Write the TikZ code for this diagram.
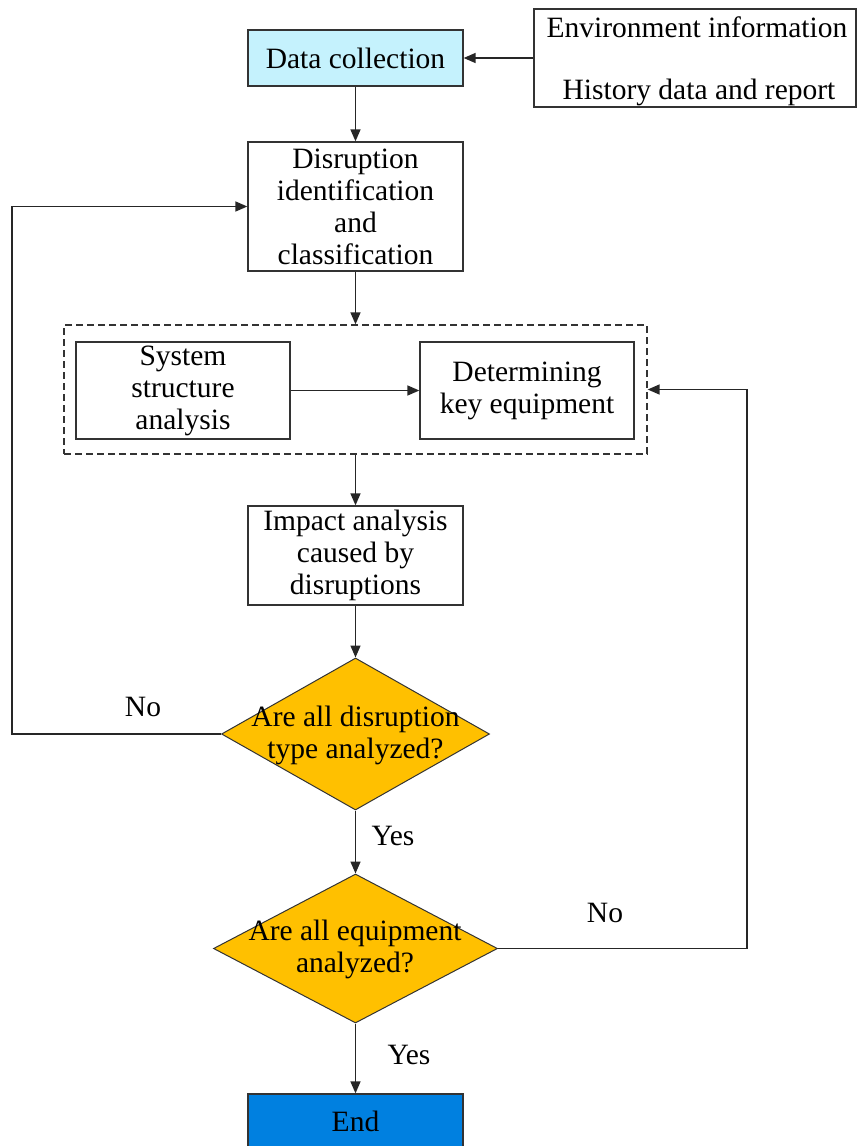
\documentclass[tikz,border=0pt]{standalone}
\usepackage{fontspec}
\setmainfont{Liberation Serif}
\usetikzlibrary{arrows.meta,shapes.geometric}
\definecolor{dccyan}{HTML}{C5F2FD}
\definecolor{gold}{HTML}{FFC000}
\definecolor{endblue}{HTML}{0080E0}
\definecolor{edge}{HTML}{333333}
\begin{document}
\begin{tikzpicture}[x=1pt,y=-1pt,
  fnt/.style={font=\fontsize{29.5}{32}\selectfont},
  box/.style={fnt,draw=edge,line width=1.3pt,align=center,inner sep=0pt,minimum width=215pt},
  txt/.style={fnt,align=center,inner sep=0pt},
  dia/.style={diamond,draw=edge,line width=1pt,fill=gold,inner sep=0pt},
  ln/.style={line width=1.5pt,draw=black!85},
  arr/.style={ln,-{Triangle[length=12pt,width=10pt]}}]
\useasboundingbox (0,0) rectangle (857,1146);
\clip (0,0) rectangle (857,1146);
% nodes
\node[box,fill=dccyan,minimum height=56pt] (dc) at (355.5,58) {Data collection};
\node[box,minimum width=322pt,minimum height=98pt] (env) at (695,58) {};
\node[txt] (env1) at (697,27) {Environment information};
\node[txt] (env2) at (699,92) {History data and report};
\node[box,minimum height=129pt] (dis) at (355.5,206.5) {Disruption\\identification\\and\\classification};
\node[draw=edge,line width=1.3pt,dash pattern=on 7pt off 4pt,minimum width=583pt,minimum height=129pt,inner sep=0pt] (grp) at (355.5,389.5) {};
\node[box,minimum width=214pt,minimum height=97pt] (sys) at (183,390.5) {System\\structure\\analysis};
\node[box,minimum width=214pt,minimum height=97pt] (det) at (527,390.5) {Determining\\key equipment};
\node[box,minimum height=99pt] (imp) at (355.5,555.5) {Impact analysis\\caused by\\disruptions};
\node[dia,minimum width=268pt,minimum height=152pt] (d1) at (355.5,734) {};
\node[txt] (d1t) at (355.5,735) {Are all disruption\\type analyzed?};
\node[dia,minimum width=284pt,minimum height=149pt] (d2) at (355.5,948.5) {};
\node[txt] (d2t) at (355,949) {Are all equipment\\analyzed?};
\node[box,fill=endblue,minimum height=54pt] (end) at (355.5,1121) {End};
% labels
\node[txt] (no1) at (143,707) {No};
\node[txt] (yes1) at (393,836) {Yes};
\node[txt] (no2) at (605,913) {No};
\node[txt] (yes2) at (409,1055) {Yes};
% connectors
\coordinate (lft) at (12,734);
\coordinate (rgt) at (747,948.5);
\draw[arr] (env.west) -- (dc.east);
\draw[arr] (dc.south) -- (dis.north);
\draw[arr] (dis.south) -- (grp.north);
\draw[arr] (sys.east) -- (det.west);
\draw[arr] (grp.south) -- (imp.north);
\draw[arr] (imp.south) -- (d1.north);
\draw[arr] (d1.south) -- (d2.north);
\draw[arr] (d2.south) -- (end.north);
\draw[arr] (d1.west) -- (lft) |- (dis.west);
\draw[arr] (d2.east) -- (rgt) |- (grp.east);
\end{tikzpicture}
\end{document}
